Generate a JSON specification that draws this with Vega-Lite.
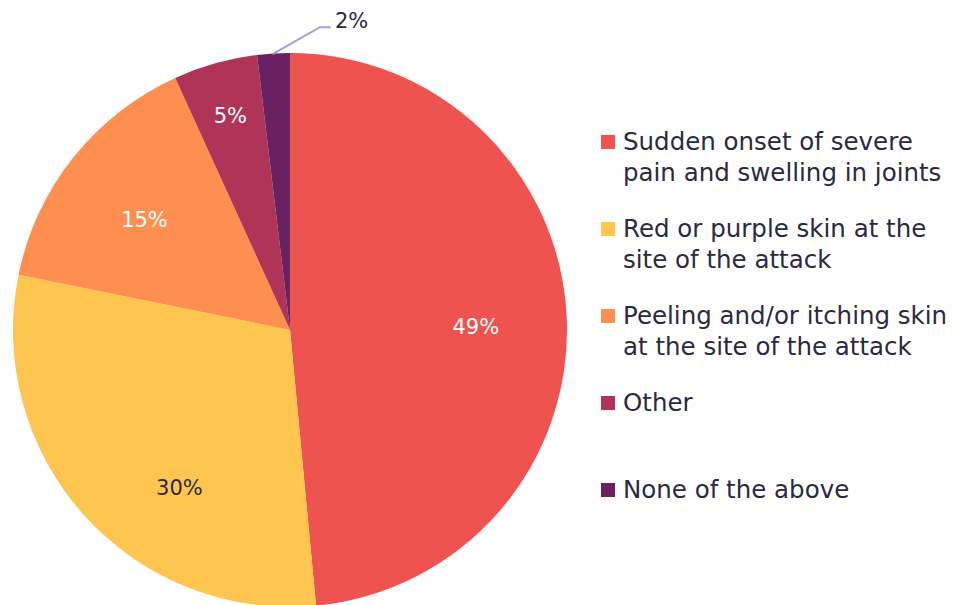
{
  "$schema": "https://vega.github.io/schema/vega-lite/v6.json",
  "padding": 0,
  "spacing": 0,
  "background": "white",
  "config": {"view": {"stroke": null}, "font": "DejaVu Sans"},
  "datasets": {
    "slices": [
      {"idx": 1, "category": "Sudden onset of severe\npain and swelling in joints", "value": 48.5, "label": "49%"},
      {"idx": 2, "category": "Red or purple skin at the\nsite of the attack", "value": 29.7, "label": "30%"},
      {"idx": 3, "category": "Peeling and/or itching skin\nat the site of the attack", "value": 15.0, "label": "15%"},
      {"idx": 4, "category": "Other", "value": 4.9, "label": "5%"},
      {"idx": 5, "category": "None of the above", "value": 1.9, "label": "2%"}
    ],
    "leader": [
      {"step": 1, "px": -0.063, "py": 0.996},
      {"step": 2, "px": 0.108, "py": 1.093},
      {"step": 3, "px": 0.147, "py": 1.093}
    ],
    "outside": [{"px": 0.162, "py": 1.090, "label": "2%"}]
  },
  "hconcat": [
    {
      "width": 580,
      "height": 660,
      "layer": [
        {
          "data": {"name": "slices"},
          "mark": {"type": "arc", "outerRadius": 277},
          "encoding": {
            "theta": {"field": "value", "type": "quantitative", "stack": true},
            "order": {"field": "idx", "type": "quantitative"},
            "color": {
              "field": "category", "type": "nominal",
              "scale": {
                "domain": ["Sudden onset of severe\npain and swelling in joints", "Red or purple skin at the\nsite of the attack", "Peeling and/or itching skin\nat the site of the attack", "Other", "None of the above"],
                "range": ["#EE534F", "#FFC54F", "#FF8F51", "#B03458", "#6A2162"]
              },
              "legend": null
            }
          }
        },
        {
          "data": {"name": "slices"},
          "mark": {"type": "text", "radius": 186, "dy": 7, "fontSize": 21, "color": "white"},
          "encoding": {
            "theta": {"field": "value", "type": "quantitative", "stack": true},
            "order": {"field": "idx", "type": "quantitative"},
            "text": {"condition": {"test": "datum.idx == 1 || datum.idx == 3", "field": "label"}, "value": ""}
          }
        },
        {
          "data": {"name": "slices"},
          "mark": {"type": "text", "radius": 221, "fontSize": 21, "color": "white"},
          "encoding": {
            "theta": {"field": "value", "type": "quantitative", "stack": true},
            "order": {"field": "idx", "type": "quantitative"},
            "text": {"condition": {"test": "datum.idx == 4", "field": "label"}, "value": ""}
          }
        },
        {
          "data": {"name": "slices"},
          "mark": {"type": "text", "radius": 193, "dx": 33, "dy": 30, "fontSize": 21, "color": "#2B2A3F"},
          "encoding": {
            "theta": {"field": "value", "type": "quantitative", "stack": true},
            "order": {"field": "idx", "type": "quantitative"},
            "text": {"condition": {"test": "datum.idx == 2", "field": "label"}, "value": ""}
          }
        },
        {
          "data": {"name": "leader"},
          "mark": {"type": "line", "color": "#A59FD3", "strokeWidth": 2},
          "encoding": {
            "x": {"field": "px", "type": "quantitative", "scale": {"domain": [-1.0469, 1.0469], "nice": false, "zero": false}, "axis": null},
            "y": {"field": "py", "type": "quantitative", "scale": {"domain": [-1.1913, 1.1913], "nice": false, "zero": false}, "axis": null},
            "order": {"field": "step", "type": "quantitative"}
          }
        },
        {
          "data": {"name": "outside"},
          "mark": {"type": "text", "align": "left", "baseline": "alphabetic", "fontSize": 21, "color": "#2B2A3F"},
          "encoding": {
            "x": {"field": "px", "type": "quantitative"},
            "y": {"field": "py", "type": "quantitative"},
            "text": {"field": "label"}
          }
        }
      ]
    },
    {
      "width": 56,
      "height": 632,
      "data": {"name": "slices"},
      "layer": [
        {
          "mark": {"type": "square", "size": 196, "opacity": 1, "filled": true},
          "encoding": {
            "y": {"field": "category", "type": "nominal", "sort": {"field": "idx", "op": "min"}, "scale": {"type": "point", "range": [142, 490], "padding": 0}, "axis": null},
            "color": {
              "field": "category", "type": "nominal",
              "scale": {
                "domain": ["Sudden onset of severe\npain and swelling in joints", "Red or purple skin at the\nsite of the attack", "Peeling and/or itching skin\nat the site of the attack", "Other", "None of the above"],
                "range": ["#EE534F", "#FFC54F", "#FF8F51", "#B03458", "#6A2162"]
              },
              "legend": null
            }
          }
        },
        {
          "mark": {"type": "text", "align": "left", "baseline": "alphabetic", "dx": 15, "dy": 8, "fontSize": 24.5, "lineBreak": "\n", "lineHeight": 31, "color": "#2B2A3F"},
          "encoding": {
            "y": {"field": "category", "type": "nominal", "sort": {"field": "idx", "op": "min"}, "scale": {"type": "point", "range": [142, 490], "padding": 0}, "axis": null},
            "text": {"field": "category"}
          }
        }
      ]
    }
  ]
}
